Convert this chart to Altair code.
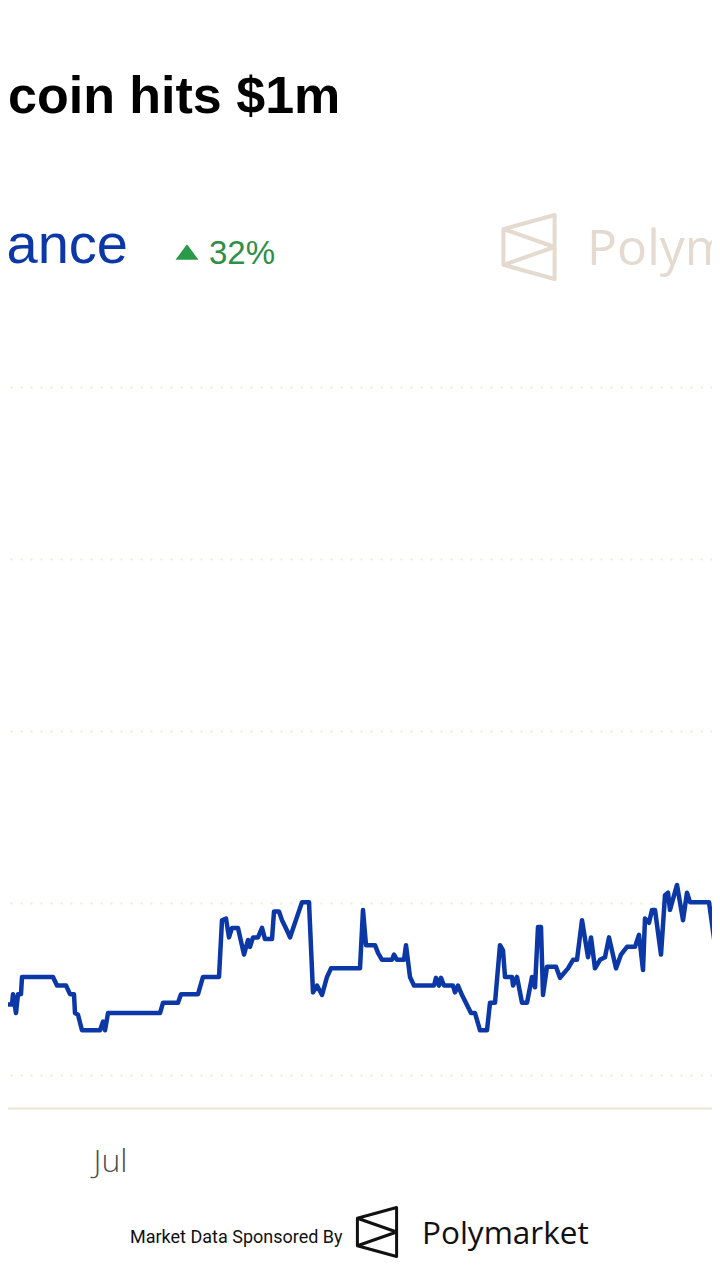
import altair as alt
import pandas as pd

# ---- texts ----
TITLE = "coin hits $1m"
SUBTITLE = "ance"
CHANGE = "32%"
WATERMARK = "Polymarket"
FOOTER_LEFT = "Market Data Sponsored By"
FOOTER_BRAND = "Polymarket"

# ---- series (chance, %) ----
times = [
    "2025-06-26T10:00", "2025-06-26T14:00", "2025-06-26T22:00", "2025-06-26T23:00",
    "2025-06-27T02:00", "2025-06-27T04:00", "2025-06-27T07:00", "2025-06-27T08:00",
    "2025-06-28T15:00", "2025-06-28T19:00", "2025-06-29T04:00", "2025-06-29T08:00",
    "2025-06-29T12:00", "2025-06-29T13:00", "2025-06-29T16:00", "2025-06-29T20:00",
    "2025-06-30T14:00", "2025-06-30T17:00", "2025-06-30T19:00", "2025-06-30T22:00",
    "2025-07-03T02:00", "2025-07-03T05:00", "2025-07-03T20:00", "2025-07-03T23:00",
    "2025-07-04T16:00", "2025-07-04T21:00", "2025-07-05T13:00", "2025-07-05T16:00",
    "2025-07-05T20:00", "2025-07-05T23:00", "2025-07-06T02:00", "2025-07-06T08:00",
    "2025-07-06T14:00", "2025-07-06T18:00", "2025-07-06T20:00", "2025-07-06T23:00",
    "2025-07-07T04:00", "2025-07-07T08:00", "2025-07-07T11:00", "2025-07-07T18:00",
    "2025-07-07T20:00", "2025-07-08T01:00", "2025-07-08T04:00", "2025-07-08T09:00",
    "2025-07-08T12:00", "2025-07-09T00:00", "2025-07-09T07:00", "2025-07-09T11:00",
    "2025-07-09T15:00", "2025-07-09T20:00", "2025-07-10T01:00", "2025-07-10T05:00",
    "2025-07-11T10:00", "2025-07-11T13:00", "2025-07-11T16:00", "2025-07-12T01:00",
    "2025-07-12T04:00", "2025-07-12T08:00", "2025-07-12T18:00", "2025-07-12T20:00",
    "2025-07-12T23:00", "2025-07-13T06:00", "2025-07-13T08:00", "2025-07-13T12:00",
    "2025-07-13T16:00", "2025-07-14T12:00", "2025-07-14T14:00", "2025-07-14T17:00",
    "2025-07-14T19:00", "2025-07-14T22:00", "2025-07-15T07:00", "2025-07-15T09:00",
    "2025-07-15T12:00", "2025-07-15T16:00", "2025-07-16T01:00", "2025-07-16T05:00",
    "2025-07-16T10:00", "2025-07-16T17:00", "2025-07-16T20:00", "2025-07-17T01:00",
    "2025-07-17T06:00", "2025-07-17T09:00", "2025-07-17T11:00", "2025-07-17T18:00",
    "2025-07-17T19:00", "2025-07-17T23:00", "2025-07-18T04:00", "2025-07-18T09:00",
    "2025-07-18T14:00", "2025-07-18T17:00", "2025-07-18T20:00", "2025-07-18T23:00",
    "2025-07-19T01:00", "2025-07-19T05:00", "2025-07-19T14:00", "2025-07-19T18:00",
    "2025-07-20T02:00", "2025-07-20T07:00", "2025-07-20T11:00", "2025-07-20T16:00",
    "2025-07-20T22:00", "2025-07-21T01:00", "2025-07-21T05:00", "2025-07-21T10:00",
    "2025-07-21T15:00", "2025-07-21T19:00", "2025-07-22T02:00", "2025-07-22T07:00",
    "2025-07-22T13:00", "2025-07-22T21:00", "2025-07-23T01:00", "2025-07-23T05:00",
    "2025-07-23T07:00", "2025-07-23T11:00", "2025-07-23T14:00", "2025-07-23T17:00",
    "2025-07-23T23:00", "2025-07-24T03:00", "2025-07-24T06:00", "2025-07-24T08:00",
    "2025-07-24T15:00", "2025-07-24T21:00", "2025-07-25T01:00", "2025-07-25T04:00",
    "2025-07-25T23:00", "2025-07-26T06:00", "2025-07-26T10:00",
]
chance = [
    5.2, 4.1, 4.1, 4.7,
    3.6, 4.7, 4.7, 5.7,
    5.7, 5.2, 5.2, 4.7,
    4.7, 3.6, 3.5, 2.6,
    2.6, 3.1, 2.6, 3.6,
    3.6, 4.2, 4.2, 4.7,
    4.7, 5.7, 5.7, 9.0,
    9.1, 8.0, 8.55, 8.55,
    7.0, 7.85, 7.45, 8.0,
    8.0, 8.55, 7.9, 7.9,
    9.5, 9.5, 9.0, 8.4,
    8.0, 10.05, 10.05, 4.8,
    5.2, 4.65, 5.7, 6.2,
    6.2, 9.6, 7.55, 7.55,
    7.1, 6.7, 6.7, 7.0,
    6.7, 6.7, 7.55, 5.7,
    5.2, 5.2, 5.65, 5.2,
    5.65, 5.2, 5.2, 4.8,
    5.2, 4.65, 3.6, 3.6,
    2.6, 2.6, 4.2, 4.2,
    7.55, 7.25, 5.7, 5.7,
    5.2, 5.7, 4.2, 4.2,
    5.7, 5.1, 8.6, 8.6,
    4.65, 6.3, 6.3, 5.65,
    6.2, 6.7, 6.7, 9.0,
    6.85, 8.0, 6.2, 6.7,
    6.85, 8.0, 6.2, 7.0,
    7.45, 7.45, 8.15, 6.1,
    9.1, 8.85, 9.6, 9.6,
    7.0, 10.45, 10.6, 9.6,
    11.05, 9.0, 10.6, 10.05,
    10.05, 7.1, 7.85,
]
grid_values = [0, 10, 20, 30, 40]

df = pd.DataFrame({"time": pd.to_datetime(times), "chance": chance})

LOGO = "M0.8,-1L-0.8,-0.56L-0.8,0.56L0.8,1ZM-0.8,-0.56L0.8,0L-0.8,0.56"
TRI = "M0,-0.68L1,0.68L-1,0.68Z"

x_scale = alt.Scale(domain=[alt.DateTime(year=2025, month=6, date=26, hours=10),
                            alt.DateTime(year=2025, month=7, date=26, hours=2)])
y_scale = alt.Scale(domain=[-1.919, 45.06], nice=False, zero=False)

line = alt.Chart(df).mark_line(color="#0b38a6", strokeWidth=4.5, strokeJoin="round",
                               clip=True).encode(
    x=alt.X("time:T", scale=x_scale,
            axis=alt.Axis(title=None, values=[alt.DateTime(year=2025, month=7, date=1)],
                          format="%b", ticks=False, tickSize=0, labelPadding=38,
                          labelFont="Open Sans", labelFontSize=32, labelFontWeight=300,
                          labelColor="#4d4d4d", domainColor="#ece5d5", domainWidth=2,
                          grid=False)),
    y=alt.Y("chance:Q", scale=y_scale,
            axis=alt.Axis(title=None, values=grid_values, labels=False, ticks=False,
                          domain=False, grid=True, gridColor="#f1e9d2", gridWidth=2,
                          gridDash=[2, 8])),
)


def txt(s, x, y, size, color, font, weight="normal", align="left"):
    return alt.Chart(pd.DataFrame({"t": [s]})).mark_text(
        align=align, baseline="alphabetic", fontSize=size, font=font,
        fontWeight=weight, color=color
    ).encode(text="t:N", x=alt.value(x), y=alt.value(y))


def sym(shape, x, y, size, color, width, filled=False):
    return alt.Chart(pd.DataFrame({"k": [0]})).mark_point(
        shape=shape, size=size, filled=filled, color=color, strokeWidth=width,
        strokeJoin="round", opacity=1
    ).encode(x=alt.value(x), y=alt.value(y))


title = txt(TITLE, 8, -187, 52, "#000000", "Liberation Sans", "bold")
sub = txt(SUBTITLE, 128, -37, 56, "#0b38a6", "Liberation Sans", align="right")
tri = sym(TRI, 187, -48, 529, "#2a9a48", 3, filled=True)
change = txt(CHANGE, 209, -36, 33, "#2e8f47", "Liberation Sans")
wm_logo = sym(LOGO, 529, -53, 4096, "#e4dad0", 4)
wm_text = txt(WATERMARK, 587, -35, 50, "#e4dad0", "Open Sans")
f_left = txt(FOOTER_LEFT, 130, 943, 18, "#111111", "Roboto")
f_logo = sym(LOGO, 377, 932, 2401, "#111111", 3)
f_brand = txt(FOOTER_BRAND, 422, 944, 31.5, "#111111", "Open Sans")

chart = alt.layer(
    line, title, sub, tri, change, wm_logo, wm_text, f_left, f_logo, f_brand
).properties(
    width=712, height=808,
    autosize=alt.AutoSizeParams(type="none"),
    padding={"left": -8, "top": 292, "right": 0, "bottom": 156},
    background="#ffffff",
).configure_view(strokeWidth=0)

chart.save("out.html", embed_options={"renderer": "svg", "actions": False})
